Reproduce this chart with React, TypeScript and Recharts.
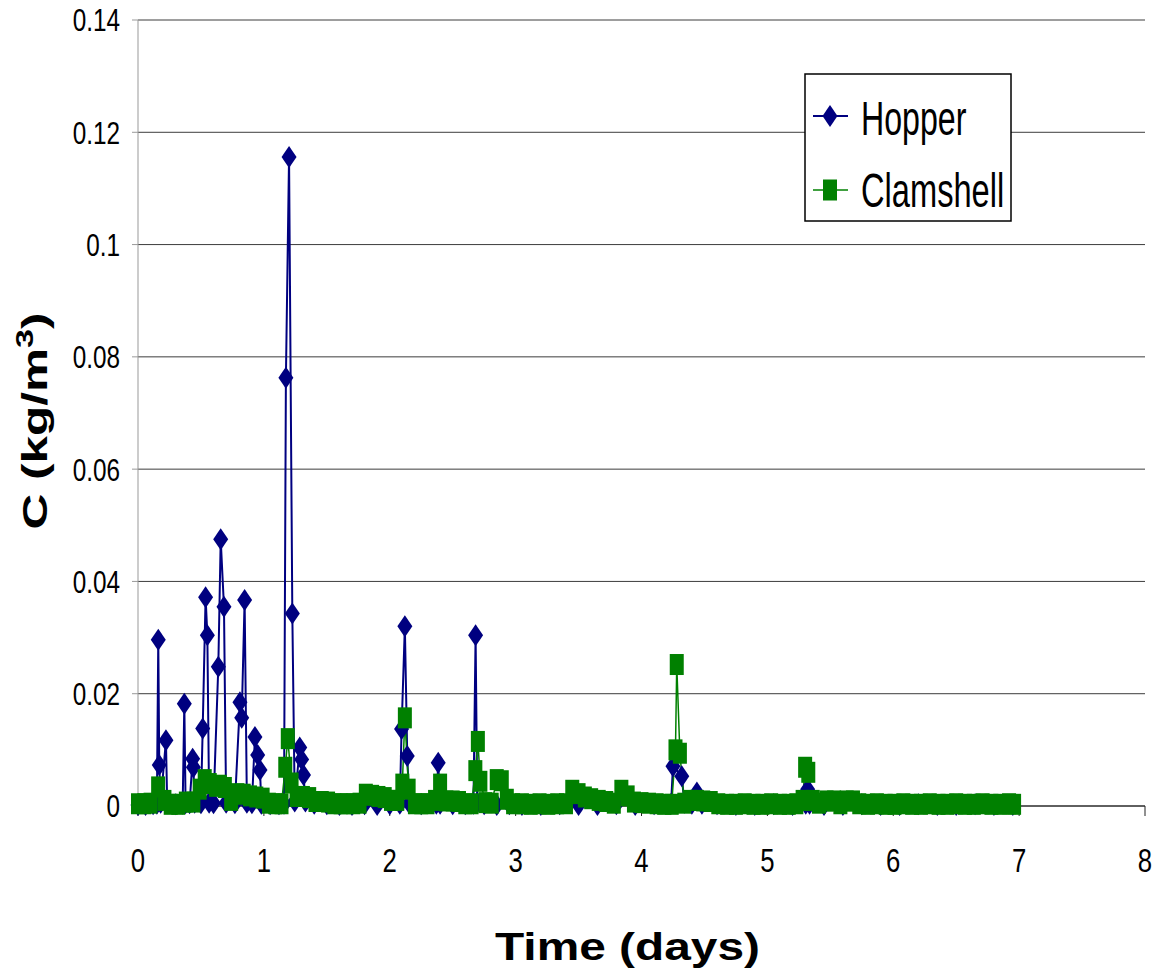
import React from "react";
import { LineChart, Line, XAxis, YAxis, CartesianGrid, Legend } from "recharts";

const HOPPER = "#000080";
const CLAM = "#008000";
const FONT = "'Liberation Sans', Arial, sans-serif";

// time axis (days) and concentration (kg/m3)
const hopperDays = [
  0, 0.06, 0.12, 0.15, 0.161, 0.169, 0.18, 0.222, 0.232, 0.3,
  0.355, 0.368, 0.378, 0.41, 0.434, 0.44, 0.45, 0.5, 0.514, 0.537,
  0.551, 0.565, 0.6, 0.638, 0.657, 0.683, 0.7, 0.77, 0.81, 0.824,
  0.847, 0.865, 0.905, 0.929, 0.951, 0.969, 0.98, 1.05, 1.12, 1.16,
  1.175, 1.2, 1.226, 1.245, 1.285, 1.3, 1.315, 1.33, 1.4, 1.5,
  1.6, 1.7, 1.8, 1.9, 2.0, 2.08, 2.094, 2.12, 2.139, 2.155,
  2.25, 2.37, 2.385, 2.4, 2.5, 2.6, 2.665, 2.682, 2.695, 2.75,
  2.85, 2.95, 3.05, 3.2, 3.35, 3.5, 3.65, 3.8, 3.95, 4.1,
  4.235, 4.25, 4.32, 4.34, 4.4, 4.44, 4.48, 4.6, 4.75, 4.9,
  5.05, 5.2, 5.305, 5.32, 5.335, 5.45, 5.6, 5.75, 5.9, 6.05,
  6.2, 6.35, 6.5, 6.65, 6.8, 6.95,
];
const hopperConc = [
  0.0002, 0.0002, 0.0003, 0.0004, 0.0296, 0.0073, 0.0006, 0.0117, 0.0005, 0.0003,
  0.0004, 0.0182, 0.0005, 0.0005, 0.0084, 0.0069, 0.0006, 0.0005, 0.0138, 0.0372,
  0.0304, 0.0006, 0.0005, 0.0248, 0.0475, 0.0355, 0.0006, 0.0005, 0.0185, 0.0157,
  0.0367, 0.0006, 0.0005, 0.0123, 0.0091, 0.0064, 0.0004, 0.0003, 0.0003, 0.0004,
  0.0763, 0.1156, 0.0343, 0.0008, 0.0104, 0.0083, 0.0055, 0.0008, 0.0004, 0.0003,
  0.0002, 0.0002, 0.0003, 0.0002, 0.0003, 0.0004, 0.0137, 0.032, 0.0089, 0.0005,
  0.0003, 0.0004, 0.0077, 0.0004, 0.0003, 0.0003, 0.0004, 0.0304, 0.0006, 0.0003,
  0.0002, 0.0003, 0.0002, 0.0002, 0.0003, 0.0002, 0.0002, 0.0003, 0.0002, 0.0003,
  0.0004, 0.0071, 0.0053, 0.0006, 0.0004, 0.0024, 0.0004, 0.0003, 0.0002, 0.0002,
  0.0003, 0.0002, 0.0004, 0.003, 0.0004, 0.0002, 0.0002, 0.0003, 0.0002, 0.0002,
  0.0003, 0.0002, 0.0002, 0.0003, 0.0002, 0.0002,
];

const clamDays = [
  0, 0.05, 0.1, 0.16, 0.21, 0.26, 0.32, 0.38, 0.44, 0.49,
  0.53, 0.57, 0.62, 0.65, 0.69, 0.74, 0.79, 0.84, 0.89, 0.94,
  0.99, 1.04, 1.09, 1.14, 1.17, 1.19, 1.22, 1.26, 1.31, 1.36,
  1.41, 1.46, 1.51, 1.56, 1.61, 1.66, 1.71, 1.76, 1.81, 1.86,
  1.91, 1.96, 2.01, 2.06, 2.1, 2.12, 2.15, 2.2, 2.25, 2.3,
  2.36, 2.4, 2.45, 2.5, 2.55, 2.6, 2.65, 2.68, 2.7, 2.72,
  2.76, 2.81, 2.85, 2.89, 2.93, 2.98, 3.05, 3.12, 3.19, 3.26,
  3.33, 3.4, 3.45, 3.5, 3.55, 3.6, 3.66, 3.72, 3.78, 3.84,
  3.89, 3.94, 4.0, 4.06, 4.12, 4.18, 4.24, 4.27, 4.28, 4.305,
  4.34, 4.39, 4.44, 4.49, 4.55, 4.61, 4.68, 4.75, 4.82, 4.89,
  4.96, 5.03, 5.1, 5.17, 5.23, 5.28, 5.3, 5.325, 5.36, 5.41,
  5.47, 5.53, 5.58, 5.63, 5.68, 5.73, 5.8, 5.87, 5.94, 6.01,
  6.08, 6.15, 6.22, 6.29, 6.36, 6.43, 6.5, 6.57, 6.64, 6.71,
  6.78, 6.85, 6.92, 6.96,
];
const clamConc = [
  0.0004, 0.0004, 0.0005, 0.0034, 0.001, 0.0003, 0.0003, 0.0007, 0.0007, 0.003,
  0.0047, 0.004, 0.0035, 0.0037, 0.0033, 0.001, 0.0022, 0.0021, 0.0018, 0.0016,
  0.0014, 0.0005, 0.0004, 0.0004, 0.0069, 0.012, 0.0041, 0.0017, 0.0017, 0.0015,
  0.0008, 0.0008, 0.0007, 0.0004, 0.0004, 0.0004, 0.0004, 0.0005, 0.0021, 0.0019,
  0.0017, 0.0015, 0.001, 0.001, 0.0039, 0.0157, 0.003, 0.0004, 0.0004, 0.0004,
  0.001, 0.0039, 0.0009, 0.0009, 0.0008, 0.0004, 0.0004, 0.0063, 0.0115, 0.0044,
  0.0006, 0.0005, 0.0047, 0.0045, 0.0012, 0.0004, 0.0004, 0.0003, 0.0004, 0.0003,
  0.0004, 0.0004, 0.0028, 0.0022, 0.0016, 0.0013, 0.001, 0.0008, 0.0005, 0.0028,
  0.0018, 0.0007, 0.0006, 0.0005, 0.0004, 0.0003, 0.0003, 0.01, 0.0252, 0.0094,
  0.0005, 0.001, 0.001, 0.0009, 0.0008, 0.0004, 0.0003, 0.0003, 0.0004, 0.0003,
  0.0003, 0.0004, 0.0003, 0.0003, 0.0004, 0.001, 0.0069, 0.006, 0.001, 0.0005,
  0.0009, 0.0009, 0.0004, 0.0009, 0.0009, 0.0004, 0.0003, 0.0004, 0.0003, 0.0003,
  0.0004, 0.0003, 0.0003, 0.0004, 0.0003, 0.0003, 0.0004, 0.0003, 0.0003, 0.0004,
  0.0003, 0.0003, 0.0004, 0.0003,
];

const xTicks = [0, 1, 2, 3, 4, 5, 6, 7, 8];
const yTicks = [0, 0.02, 0.04, 0.06, 0.08, 0.1, 0.12, 0.14];

const hopper = hopperDays.map((t, i) => ({ t, c: hopperConc[i] }));
const clamshell = clamDays.map((t, i) => ({ t, c: clamConc[i] }));

const diamondDot = (p: any) => {
  const { cx, cy, index } = p;
  if (cx == null || cy == null) return <g key={`h${index}`} />;
  return (
    <polygon
      key={`h${index}`}
      points={`${cx},${cy - 11} ${cx + 7.5},${cy} ${cx},${cy + 11} ${cx - 7.5},${cy}`}
      fill={HOPPER}
    />
  );
};

const squareDot = (p: any) => {
  const { cx, cy, index } = p;
  if (cx == null || cy == null) return <g key={`c${index}`} />;
  return <rect key={`c${index}`} x={cx - 7} y={cy - 10.5} width={14} height={21} fill={CLAM} />;
};

// the original's labels are horizontally squeezed Arial
const XTick = (p: any) => (
  <g transform={`translate(${p.x},${p.y + 56}) scale(0.78,1)`}>
    <text x={0} y={0} textAnchor="middle" fontSize={33} fontFamily={FONT} fill="#000">
      {p.payload.value}
    </text>
  </g>
);

const YTick = (p: any) => (
  <g transform={`translate(${p.x},${p.y}) scale(0.76,1)`}>
    <text x={0} y={0} dy="0.355em" textAnchor="end" fontSize={32} fontFamily={FONT} fill="#000">
      {String(p.payload.value)}
    </text>
  </g>
);

const LegendBox = () => (
  <svg width={208} height={150}>
    <rect x={1} y={1} width={206} height={147} fill="#fff" stroke="#000" strokeWidth={1.5} />
    <line x1={9} x2={44} y1={43} y2={43} stroke={HOPPER} strokeWidth={2} />
    <polygon points="26,32 33.5,43 26,54 18.5,43" fill={HOPPER} />
    <g transform="translate(57,62) scale(0.67,1)">
      <text x={0} y={0} fontSize={48} fontFamily={FONT} fill="#000">
        Hopper
      </text>
    </g>
    <line x1={9} x2={44} y1={117} y2={117} stroke={CLAM} strokeWidth={1.5} />
    <rect x={19} y={106.5} width={14} height={21} fill={CLAM} />
    <g transform="translate(57,134) scale(0.68,1)">
      <text x={0} y={0} fontSize={48} fontFamily={FONT} fill="#000">
        Clamshell
      </text>
    </g>
  </svg>
);

export default function App() {
  return (
    <div style={{ position: "absolute", left: 0, top: 0, background: "#fff" }}>
      <LineChart width={1167} height={977} margin={{ top: 20, right: 22, bottom: 0, left: 0 }}>
        <CartesianGrid vertical={false} stroke="#3c3c3c" strokeWidth={1} />
        <XAxis
          dataKey="t"
          type="number"
          domain={[0, 8]}
          ticks={xTicks}
          height={171}
          tickSize={10}
          tickMargin={0}
          stroke="#222"
          tick={<XTick />}
          label={{
            content: (props: any) => {
              const vb = props.viewBox;
              return (
                <text
                  x={vb.x + vb.width / 2 - 14}
                  y={vb.y + 154}
                  textAnchor="middle"
                  fontSize={39}
                  fontWeight="bold"
                  fontFamily={FONT}
                  textLength={265}
                  lengthAdjust="spacingAndGlyphs"
                >
                  Time (days)
                </text>
              );
            },
          }}
        />
        <YAxis
          type="number"
          domain={[0, 0.14]}
          ticks={yTicks}
          width={138}
          tickSize={6}
          tickMargin={12}
          stroke="#999"
          tick={<YTick />}
          label={{
            content: (props: any) => {
              const vb = props.viewBox;
              const cy = vb.y + vb.height / 2 + 8;
              return (
                <text
                  transform="rotate(-90)"
                  x={-cy}
                  y={47}
                  textAnchor="middle"
                  fontSize={35}
                  fontWeight="bold"
                  fontFamily={FONT}
                  textLength={217}
                  lengthAdjust="spacingAndGlyphs"
                >
                  C (kg/m<tspan fontSize={24} dy={-14}>3</tspan>
                  <tspan dy={14}>)</tspan>
                </text>
              );
            },
          }}
        />
        <Legend
          verticalAlign="middle"
          align="center"
          layout="horizontal"
          wrapperStyle={{ left: 804, top: 73, width: 208, height: 150 }}
          content={() => <LegendBox />}
        />
        <Line
          data={hopper}
          dataKey="c"
          name="Hopper"
          stroke={HOPPER}
          strokeWidth={2}
          dot={diamondDot}
          activeDot={false}
          isAnimationActive={false}
        />
        <Line
          data={clamshell}
          dataKey="c"
          name="Clamshell"
          stroke={CLAM}
          strokeWidth={1.5}
          dot={squareDot}
          activeDot={false}
          isAnimationActive={false}
        />
      </LineChart>
    </div>
  );
}
